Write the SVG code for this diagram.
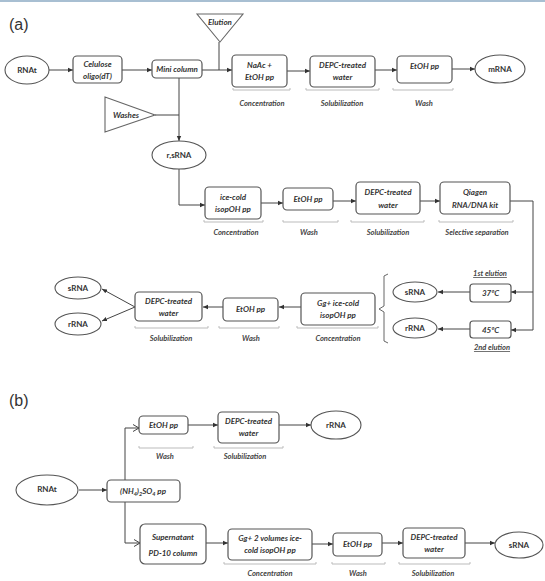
<svg xmlns="http://www.w3.org/2000/svg" width="545" height="581" viewBox="0 0 545 581">
<defs>
<style>
.bx{fill:#fff;stroke:#555;stroke-width:1.2}
.el{fill:#fff;stroke:#555;stroke-width:1.1}
.tr{fill:#fff;stroke:#666;stroke-width:1.1}
.t{font-family:Lato,"Liberation Sans",sans-serif;font-size:8px;font-style:italic;font-weight:700;fill:#333;text-anchor:middle}
.e{font-family:Lato,"Liberation Sans",sans-serif;font-size:8px;font-weight:700;fill:#333;text-anchor:middle}
.lb{font-family:Lato,"Liberation Sans",sans-serif;font-size:7.5px;font-style:italic;font-weight:700;fill:#444;text-anchor:middle}
.hd{font-family:"Liberation Sans",Arial,sans-serif;font-size:16px;fill:#333}
.br{fill:none;stroke:#bbb;stroke-width:1}
.c{fill:none;stroke:#444;stroke-width:1;marker-end:url(#ah)}
.n{fill:none;stroke:#444;stroke-width:1}
.o{fill:none;stroke:#444;stroke-width:1;marker-end:url(#oh)}
</style>
<marker id="ah" markerUnits="userSpaceOnUse" markerWidth="6" markerHeight="6" refX="5" refY="3" orient="auto"><path d="M0,0.8 L5,3 L0,5.2 Z" fill="#333"/></marker>
<marker id="oh" markerUnits="userSpaceOnUse" markerWidth="7" markerHeight="8" refX="6" refY="4" orient="auto"><path d="M0,0.5 L6,4 L0,7.5" fill="none" stroke="#444" stroke-width="1"/></marker>
</defs>
<rect x="0" y="0" width="545" height="2" fill="#a8bfd2"/>

<text class="hd" x="9" y="30">(a)</text>
<text class="hd" x="9" y="406">(b)</text>

<g id="connectors">
<line class="c" x1="49" y1="70" x2="73" y2="70"/>
<line class="c" x1="122" y1="70" x2="152" y2="70"/>
<line class="c" x1="202" y1="70" x2="232" y2="70"/>
<line class="n" x1="219" y1="42" x2="219" y2="70"/>
<line class="c" x1="287" y1="71" x2="310" y2="71"/>
<line class="c" x1="375" y1="70" x2="397" y2="70"/>
<line class="c" x1="452" y1="69" x2="475" y2="69"/>
<line class="n" x1="155" y1="115" x2="179" y2="115"/>
<line class="c" x1="179" y1="78" x2="179" y2="141"/>
<polyline class="c" points="179,169 179,205 205,205"/>
<line class="c" x1="261" y1="203" x2="283" y2="203"/>
<line class="c" x1="333" y1="201" x2="356" y2="201"/>
<line class="c" x1="420" y1="201" x2="440" y2="201"/>
<polyline class="n" points="510,201 533,201 533,330"/>
<line class="c" x1="533" y1="292" x2="511" y2="292"/>
<line class="c" x1="533" y1="330" x2="511" y2="330"/>
<line class="c" x1="470" y1="292" x2="438" y2="292"/>
<line class="c" x1="470" y1="329" x2="438" y2="329"/>
<line class="c" x1="301" y1="307" x2="279" y2="307"/>
<line class="c" x1="223" y1="307" x2="203" y2="307"/>
<line class="c" x1="135" y1="307" x2="102" y2="289"/>
<line class="c" x1="135" y1="307" x2="102" y2="321"/>
<line class="c" x1="188" y1="425" x2="218" y2="425"/>
<line class="c" x1="279" y1="425" x2="311" y2="425"/>
<line class="c" x1="79" y1="490" x2="107" y2="490"/>
<polyline class="o" points="125,480 125,428 139,428"/>
<polyline class="o" points="125,502 125,543 140,543"/>
<line class="c" x1="206" y1="543" x2="228" y2="543"/>
<line class="c" x1="312" y1="544" x2="333" y2="544"/>
<line class="c" x1="382" y1="543" x2="403" y2="543"/>
<line class="c" x1="465" y1="543" x2="495" y2="543"/>
</g>

<g id="brackets">
<path class="br" d="M233,88 v2 h57 v-2"/>
<path class="br" d="M306,88 v2 h73 v-2"/>
<path class="br" d="M393,88 v2 h60 v-2"/>
<path class="br" d="M204,220 v2 h59 v-2"/>
<path class="br" d="M283,220 v2 h55 v-2"/>
<path class="br" d="M351,220 v2 h73 v-2"/>
<path class="br" d="M439,220 v2 h74 v-2"/>
<path class="br" d="M297,326 v2 h81 v-2"/>
<path class="br" d="M219,326 v2 h60 v-2"/>
<path class="br" d="M135,326 v2 h73 v-2"/>
<path class="br" d="M139,446 v2 h54 v-2"/>
<path class="br" d="M214,446 v2 h69 v-2"/>
<path class="br" d="M224,562 v2 h92 v-2"/>
<path class="br" d="M332,562 v2 h53 v-2"/>
<path class="br" d="M399,562 v2 h71 v-2"/>
<path fill="none" stroke="#666" stroke-width="1" d="M388,274 L384,276 L384,306 L379,309 L384,312 L384,341 L388,343"/>
</g>

<g id="labels">
<text class="lb" x="262" y="106">Concentration</text>
<text class="lb" x="342" y="106">Solubilization</text>
<text class="lb" x="424" y="106">Wash</text>
<text class="lb" x="236" y="235">Concentration</text>
<text class="lb" x="309" y="235">Wash</text>
<text class="lb" x="388" y="235">Solubilization</text>
<text class="lb" x="477" y="235">Selective separation</text>
<text class="lb" x="490" y="276" text-decoration="underline">1st elution</text>
<text class="lb" x="492" y="350" text-decoration="underline">2nd elution</text>
<text class="lb" x="338" y="341">Concentration</text>
<text class="lb" x="251" y="341">Wash</text>
<text class="lb" x="171" y="341">Solubilization</text>
<text class="lb" x="165" y="459">Wash</text>
<text class="lb" x="245" y="459">Solubilization</text>
<text class="lb" x="270" y="576">Concentration</text>
<text class="lb" x="358" y="576">Wash</text>
<text class="lb" x="433" y="576">Solubilization</text>
</g>

<g id="n-elution"><polygon class="tr" points="197,14 243,14 220,42"/><text class="t" x="220" y="25">Elution</text></g>
<g id="n-washes"><polygon class="tr" points="105,97 105,132 155,115"/><text class="t" x="126" y="118">Washes</text></g>

<g id="n-rnat-a"><ellipse class="el" cx="27" cy="70" rx="22" ry="14"/><text class="e" x="27" y="73">RNAt</text></g>
<g id="n-celulose"><rect class="bx" x="73" y="56" width="49" height="27" rx="4"/><text class="t" x="97.5" y="67">Celulose</text><text class="t" x="97.5" y="79">oligo(dT)</text></g>
<g id="n-minicol"><rect class="bx" x="152" y="60" width="50" height="18" rx="4"/><text class="t" x="177" y="72">Mini column</text></g>
<g id="n-naac"><rect class="bx" x="232" y="55" width="55" height="32" rx="4"/><text class="t" x="259.5" y="68">NaAc +</text><text class="t" x="259.5" y="80">EtOH pp</text></g>
<g id="n-depc1"><rect class="bx" x="310" y="56" width="65" height="31" rx="4"/><text class="t" x="342.5" y="68">DEPC-treated</text><text class="t" x="342.5" y="80">water</text></g>
<g id="n-etoh1"><rect class="bx" x="397" y="56" width="55" height="27" rx="4"/><text class="t" x="424.5" y="69">EtOH pp</text></g>
<g id="n-mrna"><ellipse class="el" cx="500" cy="69" rx="25" ry="14"/><text class="e" x="500" y="72">mRNA</text></g>
<g id="n-rsrna"><ellipse class="el" cx="179" cy="155" rx="27" ry="14"/><text class="e" x="179" y="158">r,sRNA</text></g>

<g id="n-icecold"><rect class="bx" x="205" y="187" width="56" height="32" rx="4"/><text class="t" x="233" y="200">ice-cold</text><text class="t" x="233" y="212">isopOH pp</text></g>
<g id="n-etoh2"><rect class="bx" x="283" y="188" width="50" height="22" rx="4"/><text class="t" x="308" y="202">EtOH pp</text></g>
<g id="n-depc2"><rect class="bx" x="356" y="182" width="64" height="32" rx="4"/><text class="t" x="388" y="195">DEPC-treated</text><text class="t" x="388" y="208">water</text></g>
<g id="n-qiagen"><rect class="bx" x="440" y="182" width="70" height="32" rx="4"/><text class="t" x="475" y="195">Qiagen</text><text class="t" x="475" y="208">RNA/DNA kit</text></g>

<g id="n-37c"><rect class="bx" x="470" y="284" width="41" height="18" rx="3"/><text class="t" x="490.5" y="296">37ºC</text></g>
<g id="n-45c"><rect class="bx" x="470" y="321" width="41" height="17" rx="3"/><text class="t" x="490.5" y="333">45ºC</text></g>
<g id="n-srna-a2"><ellipse class="el" cx="415" cy="292" rx="22" ry="10"/><text class="e" x="415" y="295">sRNA</text></g>
<g id="n-rrna-a2"><ellipse class="el" cx="415" cy="328" rx="22" ry="10"/><text class="e" x="415" y="331">rRNA</text></g>

<g id="n-gg"><rect class="bx" x="301" y="293" width="74" height="32" rx="4"/><text class="t" x="338" y="306">Gg+ ice-cold</text><text class="t" x="338" y="318">isopOH pp</text></g>
<g id="n-etoh3"><rect class="bx" x="223" y="298" width="55" height="23" rx="4"/><text class="t" x="250.5" y="312">EtOH pp</text></g>
<g id="n-depc3"><rect class="bx" x="135" y="292" width="67" height="29" rx="4"/><text class="t" x="168.5" y="304">DEPC-treated</text><text class="t" x="168.5" y="316">water</text></g>
<g id="n-srna-a1"><ellipse class="el" cx="78" cy="288" rx="23" ry="11"/><text class="e" x="78" y="291">sRNA</text></g>
<g id="n-rrna-a1"><ellipse class="el" cx="78" cy="324" rx="23" ry="11"/><text class="e" x="78" y="327">rRNA</text></g>

<g id="n-etoh4"><rect class="bx" x="139" y="416" width="49" height="18" rx="4"/><text class="t" x="163.5" y="428">EtOH pp</text></g>
<g id="n-depc4"><rect class="bx" x="218" y="412" width="61" height="31" rx="4"/><text class="t" x="248.5" y="424">DEPC-treated</text><text class="t" x="248.5" y="436">water</text></g>
<g id="n-rrna-b"><ellipse class="el" cx="336" cy="425" rx="25" ry="14"/><text class="e" x="336" y="428">rRNA</text></g>
<g id="n-rnat-b"><ellipse class="el" cx="47" cy="490" rx="31" ry="15"/><text class="e" x="47" y="492">RNAt</text></g>
<g id="n-nh4"><rect class="bx" x="107" y="480" width="73" height="22" rx="4"/><text class="t" x="143" y="494">(NH<tspan font-size="5.5" dy="2">4</tspan><tspan dy="-2">)</tspan><tspan font-size="5.5" dy="2">2</tspan><tspan dy="-2">SO</tspan><tspan font-size="5.5" dy="2">4</tspan><tspan dy="-2"> pp</tspan></text></g>
<g id="n-super"><rect class="bx" x="140" y="524" width="66" height="40" rx="5"/><text class="t" x="173" y="540">Supernatant</text><text class="t" x="173" y="556">PD-10 column</text></g>
<g id="n-gg2"><rect class="bx" x="228" y="529" width="84" height="31" rx="4"/><text class="t" x="270" y="541">Gg+ 2 volumes ice-</text><text class="t" x="270" y="553">cold isopOH pp</text></g>
<g id="n-etoh5"><rect class="bx" x="333" y="533" width="49" height="23" rx="4"/><text class="t" x="357.5" y="547">EtOH pp</text></g>
<g id="n-depc5"><rect class="bx" x="403" y="528" width="62" height="30" rx="4"/><text class="t" x="434" y="540">DEPC-treated</text><text class="t" x="434" y="552">water</text></g>
<g id="n-srna-b"><ellipse class="el" cx="519" cy="545" rx="24" ry="13"/><text class="e" x="519" y="548">sRNA</text></g>
</svg>
